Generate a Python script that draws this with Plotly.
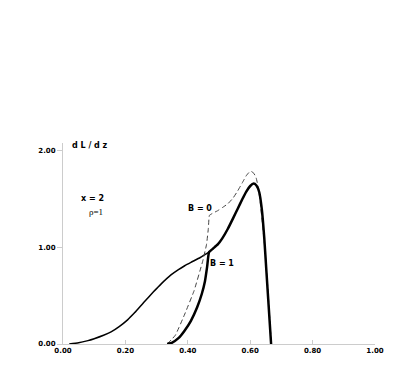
import plotly.graph_objects as go

# thin solid curve (rises from z~0, merges with thick curve)
thin_z = [0.02, 0.05, 0.08, 0.10, 0.13, 0.154, 0.18, 0.207, 0.23, 0.26, 0.29, 0.314,
          0.346, 0.37, 0.39, 0.41, 0.44, 0.468]
thin_v = [0.0, 0.012, 0.035, 0.055, 0.09, 0.125, 0.18, 0.25, 0.325, 0.435, 0.54, 0.62,
          0.715, 0.77, 0.81, 0.845, 0.895, 0.95]

# thick solid curve, B=1
b1_z = [0.334, 0.35, 0.37, 0.389, 0.41, 0.43, 0.445, 0.455, 0.462, 0.468, 0.48, 0.496,
        0.51, 0.528, 0.545, 0.56, 0.575, 0.587, 0.60, 0.611, 0.62, 0.629, 0.637, 0.645,
        0.652, 0.66, 0.667]
b1_v = [0.0, 0.015, 0.06, 0.135, 0.24, 0.38, 0.52, 0.65, 0.80, 0.95, 0.985, 1.03,
        1.09, 1.19, 1.30, 1.40, 1.50, 1.575, 1.635, 1.66, 1.64, 1.57, 1.40, 1.10,
        0.75, 0.35, 0.0]

# dashed curve, B=0
b0_z = [0.334, 0.36, 0.389, 0.42, 0.448, 0.46, 0.466, 0.469, 0.478, 0.496, 0.51, 0.528,
        0.545, 0.56, 0.575, 0.587, 0.596, 0.604, 0.612, 0.619, 0.626, 0.632, 0.64, 0.648,
        0.656, 0.662, 0.668]
b0_v = [0.0, 0.09, 0.30, 0.55, 0.86, 1.03, 1.20, 1.33, 1.35, 1.38, 1.41, 1.45,
        1.51, 1.585, 1.67, 1.74, 1.775, 1.785, 1.765, 1.72, 1.62, 1.47, 1.22, 0.95,
        0.60, 0.30, 0.0]

x_ticks = [0.0, 0.2, 0.4, 0.6, 0.8, 1.0]
x_tick_labels = ["0.00", "0.20", "0.40", "0.60", "0.80", "1.00"]
y_ticks = [0.0, 1.0, 2.0]
y_tick_labels = ["0.00", "1.00", "2.00"]

FONT = "DejaVu Sans, sans-serif"

fig = go.Figure()
fig.add_trace(go.Scatter(x=thin_z, y=thin_v, mode="lines",
                         line=dict(color="black", width=1.5, shape="spline", smoothing=0.5),
                         showlegend=False, hoverinfo="skip"))
fig.add_trace(go.Scatter(x=b0_z, y=b0_v, mode="lines",
                         line=dict(color="#444444", width=1, dash="5px,3px", shape="spline", smoothing=0.3),
                         showlegend=False, hoverinfo="skip"))
fig.add_trace(go.Scatter(x=b1_z, y=b1_v, mode="lines",
                         line=dict(color="black", width=2.5, shape="spline", smoothing=0.4),
                         showlegend=False, hoverinfo="skip"))

ann = dict(xref="x", yref="y", showarrow=False, font=dict(family=FONT, size=8, color="black"))
fig.add_annotation(x=0.088, y=2.05, text="<b>d L / d z</b>", **ann)
fig.add_annotation(x=1.01, y=0.07, text="<b>z</b>", **ann)
fig.add_annotation(x=0.096, y=1.51, text="<b>x = 2</b>", **ann)
fig.add_annotation(x=0.106, y=1.365, text="ρ=1",
                   xref="x", yref="y", showarrow=False,
                   font=dict(family="Liberation Serif, serif", size=9, color="black"))
fig.add_annotation(x=0.44, y=1.40, text="<b>B = 0</b>", **ann)
fig.add_annotation(x=0.51, y=0.83, text="<b>B = 1</b>", **ann)

fig.update_layout(
    width=410, height=382,
    margin=dict(l=55, r=43, t=135, b=46),
    paper_bgcolor="white", plot_bgcolor="white",
    font=dict(family=FONT, size=7, color="black"),
)
fig.update_xaxes(range=[0, 1.0], tickvals=x_ticks, ticktext=["<b>%s</b>" % t for t in x_tick_labels],
                 showgrid=False, zeroline=False, showline=True, linecolor="#cccccc", linewidth=1,
                 ticks="inside", ticklen=4, tickcolor="#cccccc")
fig.update_yaxes(range=[0, 2.08], tickvals=y_ticks, ticktext=["<b>%s</b>" % t for t in y_tick_labels],
                 showgrid=False, zeroline=False, showline=True, linecolor="#cccccc", linewidth=1,
                 ticks="outside", ticklen=5, tickcolor="#cccccc")

fig.write_html("out.html")
